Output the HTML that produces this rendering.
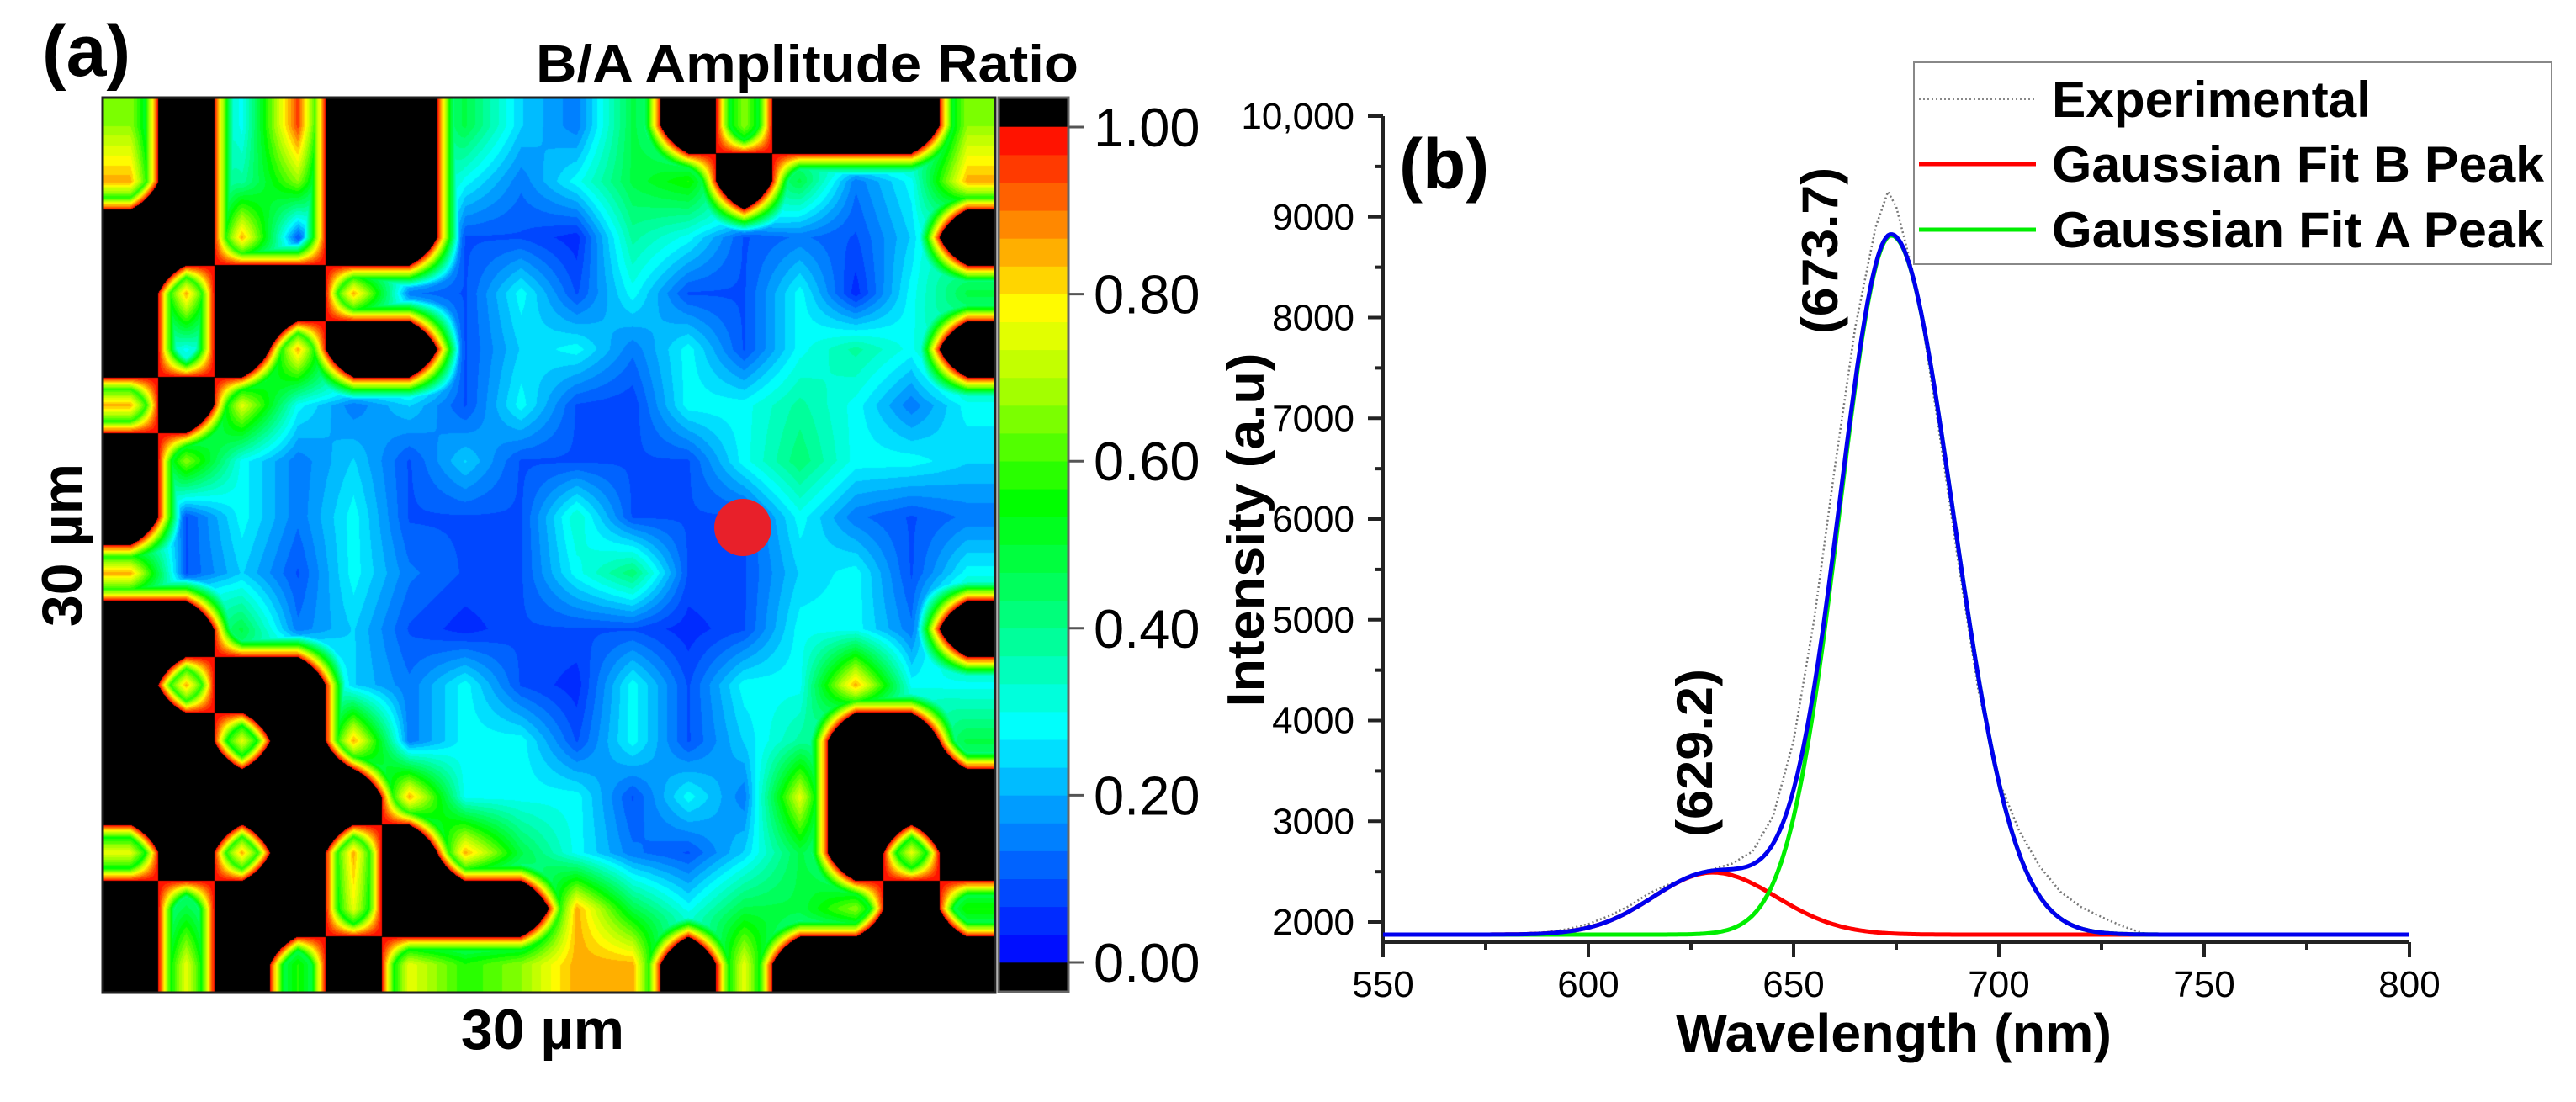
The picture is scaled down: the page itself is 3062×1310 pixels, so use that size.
<!DOCTYPE html>
<html><head><meta charset="utf-8">
<style>
html,body{margin:0;padding:0;background:#fff;}
body{width:3062px;height:1310px;position:relative;overflow:hidden;font-family:"Liberation Sans",Arial,sans-serif;}
#heat{position:absolute;left:122px;top:116px;width:1061px;height:1064px;}
svg{position:absolute;left:0;top:0;}
</style></head>
<body>
<canvas id="heat" width="1061" height="1064"></canvas>
<svg id="svg" width="3062" height="1310">
  <text x="50" y="90" font-size="86" font-weight="bold">(a)</text>
  <text x="1282" y="97" font-size="62" font-weight="bold" text-anchor="end" textLength="645" lengthAdjust="spacingAndGlyphs">B/A Amplitude Ratio</text>
  <rect x="122" y="116" width="1061" height="1064" fill="none" stroke="#222" stroke-width="3"/>
  <circle cx="883" cy="627" r="34" fill="#e8202a"/>
  <text transform="translate(97,648) rotate(-90)" font-size="68" font-weight="bold" text-anchor="middle">30 µm</text>
  <text x="645" y="1247" font-size="68" font-weight="bold" text-anchor="middle">30 µm</text>
  <g id="cbar"></g>
  <g id="spec"></g>
  <text x="1663" y="224" font-size="84" font-weight="bold">(b)</text>
  <text transform="translate(1502,630) rotate(-90)" font-size="62" font-weight="bold" text-anchor="middle" textLength="421" lengthAdjust="spacingAndGlyphs">Intensity (a.u)</text>
  <text x="2251" y="1250" font-size="64" font-weight="bold" text-anchor="middle" textLength="518" lengthAdjust="spacingAndGlyphs">Wavelength (nm)</text>
  <text transform="translate(2184,298) rotate(-90)" font-size="60" font-weight="bold" text-anchor="middle" textLength="198" lengthAdjust="spacingAndGlyphs">(673.7)</text>
  <text transform="translate(2035,895) rotate(-90)" font-size="60" font-weight="bold" text-anchor="middle" textLength="200" lengthAdjust="spacingAndGlyphs">(629.2)</text>
  <g>
    <rect x="2275" y="74" width="758" height="240" fill="#fff" stroke="#888" stroke-width="2"/>
    <line x1="2281" y1="118" x2="2420" y2="118" stroke="#888" stroke-width="2" stroke-dasharray="2,3"/>
    <text x="2439" y="139" font-size="60" font-weight="bold" textLength="379" lengthAdjust="spacingAndGlyphs">Experimental</text>
    <line x1="2281" y1="195" x2="2420" y2="195" stroke="#ff0000" stroke-width="5"/>
    <text x="2439" y="216" font-size="60" font-weight="bold" textLength="585" lengthAdjust="spacingAndGlyphs">Gaussian Fit B Peak</text>
    <line x1="2281" y1="273" x2="2420" y2="273" stroke="#00ee00" stroke-width="5"/>
    <text x="2439" y="294" font-size="60" font-weight="bold" textLength="585" lengthAdjust="spacingAndGlyphs">Gaussian Fit A Peak</text>
  </g>
</svg>
<script>
// ---------- heatmap data (16x16 grid, values >1 render black) ----------
const heatRows = [
[0.7,1.2,0.3,1.0,1.2,1.2,0.5,0.25,0.15,0.5,1.2,0.7,1.2,1.2,1.2,0.7],
[0.9,1.2,0.4,0.7,1.2,1.2,0.3,0.15,0.3,0.5,0.6,1.2,0.5,0.15,0.3,0.9],
[1.2,1.2,0.9,0.1,1.2,1.2,0.1,0.1,0.05,0.4,0.3,0.1,0.15,0.1,0.25,1.2],
[1.2,0.9,1.2,1.2,0.9,0.15,0.1,0.3,0.1,0.3,0.1,0.1,0.3,0.05,0.3,0.5],
[1.2,0.3,1.2,0.9,1.2,1.1,0.1,0.25,0.3,0.15,0.3,0.1,0.3,0.4,0.3,1.2],
[0.9,1.2,0.8,0.3,0.15,0.25,0.1,0.3,0.1,0.08,0.3,0.3,0.4,0.3,0.15,0.3],
[1.2,0.7,0.3,0.15,0.25,0.1,0.25,0.1,0.1,0.1,0.1,0.3,0.45,0.3,0.3,0.25],
[1.2,0.1,0.3,0.15,0.3,0.1,0.1,0.1,0.35,0.1,0.1,0.1,0.3,0.15,0.1,0.15],
[0.9,0.1,0.25,0.1,0.3,0.15,0.1,0.1,0.3,0.45,0.1,0.1,0.25,0.3,0.1,0.3],
[1.2,1.2,0.5,0.15,0.25,0.1,0.05,0.1,0.1,0.1,0.05,0.1,0.3,0.3,0.15,1.2],
[1.2,0.9,1.2,1.2,0.25,0.15,0.3,0.1,0.05,0.3,0.1,0.3,0.3,0.9,0.3,0.3],
[1.2,1.2,0.8,1.2,0.9,0.15,0.3,0.3,0.1,0.3,0.1,0.25,0.4,1.2,1.2,0.5],
[1.2,1.2,1.2,1.2,1.2,0.9,0.3,0.3,0.3,0.1,0.3,0.15,0.8,1.2,1.2,1.2],
[0.8,1.2,0.9,1.2,0.9,1.2,0.9,0.5,0.3,0.15,0.1,0.25,0.5,1.2,0.8,1.2],
[1.2,0.5,1.2,1.2,0.8,1.2,1.2,1.2,0.9,0.5,0.3,0.5,0.5,0.7,1.2,0.6],
[1.2,0.8,1.2,0.6,1.2,0.8,0.6,0.7,0.9,0.9,1.2,0.8,1.2,1.2,1.2,1.2]
];
const colorbarTicks = [0, 0.2, 0.4, 0.6, 0.8, 1.0];
const colorbarLabels = ["0.00","0.20","0.40","0.60","0.80","1.00"];
const nLevels = 30;

// ---------- spectrum data ----------
const expWavelengths = [550,555,560,565,570,575,580,585,590,595,600,605,610,615,620,625,630,635,640,645,650,655,660,665,670,673,675,680,685,690,695,700,705,710,715,720,725,730,735,740,750,760,770,780,790,800];
const expIntensity  = [1875,1870,1880,1872,1875,1870,1880,1890,1900,1930,1980,2060,2160,2290,2380,2440,2520,2580,2700,3050,3800,5000,6500,7900,8900,9250,9100,8300,7000,5600,4300,3400,2900,2550,2300,2150,2050,1960,1890,1875,1872,1870,1875,1870,1872,1870];
const fitBaseline = [1875];
const peakCenters = [630.3, 673.8];   // B, A
const peakAmps    = [617, 6940];
const peakSigmaL  = [14.5, 12.6];
const peakSigmaR  = [15.5, 15.0];
const xTickVals = [550,600,650,700,750,800];
const yTickVals = [2000,3000,4000,5000,6000,7000,8000,9000,10000];
const yTickLabels = ["2000","3000","4000","5000","6000","7000","8000","9000","10,000"];

const NS = "http://www.w3.org/2000/svg";
function mk(tag, attrs, parent){const e=document.createElementNS(NS,tag);for(const k in attrs)e.setAttribute(k,attrs[k]);parent.appendChild(e);return e;}

const jetStops=[[0,[0,0,255]],[0.1,[0,85,255]],[0.2,[0,170,255]],[0.28,[0,255,255]],[0.42,[0,255,120]],[0.55,[0,255,0]],[0.68,[160,255,0]],[0.78,[255,255,0]],[0.88,[255,140,0]],[1,[255,0,0]]];
function jet(v){
  v=Math.max(0,Math.min(1,v));
  for(let i=1;i<jetStops.length;i++){
    if(v<=jetStops[i][0]){
      const a=jetStops[i-1],b=jetStops[i],t=(v-a[0])/(b[0]-a[0]);
      return [0,1,2].map(j=>Math.round(a[1][j]+(b[1][j]-a[1][j])*t));
    }
  }
  return [255,0,0];
}
function levelColor(v){
  const lvl=Math.max(0,Math.min(nLevels-1,Math.floor(v*nLevels)));
  return jet((lvl+0.5)/nLevels);
}

(function(){
  const c=document.getElementById('heat'),ctx=c.getContext('2d');
  const W=c.width,H=c.height,img=ctx.createImageData(W,H);
  const nr=heatRows.length,nc=heatRows[0].length;
  const blk=heatRows.map(r=>r.map(v=>v>1?1:0));
  const clip=heatRows.map(r=>r.map(v=>Math.min(v,1)));
  function bil(A,x0,x1,y0,y1,tx,ty){return (A[y0][x0]*(1-tx)+A[y0][x1]*tx)*(1-ty)+(A[y1][x0]*(1-tx)+A[y1][x1]*tx)*ty;}
  for(let py=0;py<H;py++){
    let gy=(py+0.5)/H*nr-0.5; gy=Math.max(0,Math.min(nr-1,gy));
    const y0=Math.floor(gy),y1=Math.min(nr-1,y0+1),ty=gy-y0;
    for(let px=0;px<W;px++){
      let gx=(px+0.5)/W*nc-0.5; gx=Math.max(0,Math.min(nc-1,gx));
      const x0=Math.floor(gx),x1=Math.min(nc-1,x0+1),tx=gx-x0;
      const m=bil(blk,x0,x1,y0,y1,tx,ty);
      let col;
      if(m>=0.5) col=[0,0,0];
      else{
        let v=bil(clip,x0,x1,y0,y1,tx,ty);
        v=Math.min(v,0.95*v+0.0);
        v=Math.max(v*(1-m*1.2), m*2);
        col=levelColor(v);
      }
      const i=(py*W+px)*4;
      img.data[i]=col[0];img.data[i+1]=col[1];img.data[i+2]=col[2];img.data[i+3]=255;
    }
  }
  ctx.putImageData(img,0,0);
})();

(function(){
  const g=document.getElementById('cbar');
  const x=1187,w=83,top=116,bot=1179,y1=151,y0=1144;
  const cy=v=>y0-(v)*(y0-y1);
  const r1=mk('rect',{x:x,y:top,width:w,height:bot-top,fill:'#000'},g);
  
  
  for(let i=0;i<nLevels;i++){
    const c=jet((i+0.5)/nLevels);
    const r=mk('rect',{x:x,y:cy((i+1)/nLevels)-0.3,width:w,height:(y0-y1)/nLevels+0.6,fill:`rgb(${c[0]},${c[1]},${c[2]})`},g);
    
    
  }
  const fr=mk('rect',{x:x,y:top,width:w,height:bot-top,fill:'none',stroke:'#666','stroke-width':3},g);
  
  
  colorbarTicks.forEach((v,i)=>{
    const t=mk('line',{x1:x+w,x2:x+w+19,y1:cy(v),y2:cy(v),stroke:'#555','stroke-width':3},g);
    
    
    const tx=mk('text',{x:1300,y:cy(v)+23,'font-size':65},g);
    tx.textContent=colorbarLabels[i];
    
    
  });
})();

(function(){
  const g=document.getElementById('spec');
  const X0=1644,X1=2864,Y0=1120,Y1=138,XMIN=550,XMAX=800,YMIN=1800,YMAX=10000;
  const sx=v=>X0+(v-XMIN)/(XMAX-XMIN)*(X1-X0);
  const sy=v=>Y0-(v-YMIN)/(YMAX-YMIN)*(Y0-Y1);
  const font='"Liberation Sans Narrow","Liberation Sans",sans-serif';
  const ax=mk('path',{d:`M${X0},${Y1} L${X0},${Y0} L${X1},${Y0}`,fill:'none',stroke:'#222','stroke-width':4},g);
  
  
  for(let v=2000;v<=10000;v+=500){
    const major=v%1000===0;
    const t=mk('line',{x1:X0-(major?18:9),x2:X0,y1:sy(v),y2:sy(v),stroke:'#222','stroke-width':4},g);
    
    
  }
  yTickVals.forEach((v,i)=>{
    const t=mk('text',{x:1610,y:sy(v)+15,'font-size':44,'text-anchor':'end','font-family':font},g);
    t.textContent=yTickLabels[i];
    
    
  });
  for(let v=550;v<=800;v+=25){
    const major=v%50===0;
    const t=mk('line',{x1:sx(v),x2:sx(v),y1:Y0,y2:Y0+(major?18:9),stroke:'#222','stroke-width':4},g);
    
    
  }
  xTickVals.forEach(v=>{
    const t=mk('text',{x:sx(v),y:1185,'font-size':44,'text-anchor':'middle','font-family':font},g);
    t.textContent=String(v);
    
    
  });
  const ep=expWavelengths.map((w,i)=>`${i?'L':'M'}${sx(w).toFixed(1)},${sy(expIntensity[i]).toFixed(1)}`).join(' ');
  const e=mk('path',{d:ep,fill:'none',stroke:'#777','stroke-width':2.5,'stroke-dasharray':'2,3'},g);
  
  
  function peak(k,w){const s=w<peakCenters[k]?peakSigmaL[k]:peakSigmaR[k];const d=w-peakCenters[k];return peakAmps[k]*Math.exp(-d*d/(2*s*s));}
  const ws=[];for(let w=XMIN;w<=XMAX;w+=0.5)ws.push(w);
  function line(fn,color,name){
    const d=ws.map((w,i)=>`${i?'L':'M'}${sx(w).toFixed(1)},${sy(fn(w)).toFixed(1)}`).join(' ');
    const p=mk('path',{d:d,fill:'none',stroke:color,'stroke-width':5,'stroke-linejoin':'round'},g);
    
    
  }
  line(w=>fitBaseline[0]+peak(0,w),'#ff0000','fit-b-peak');
  line(w=>fitBaseline[0]+peak(1,w),'#00ee00','fit-a-peak');
  line(w=>fitBaseline[0]+peak(0,w)+peak(1,w),'#0000ee','fit-cumulative');
})();
</script>
</body></html>
